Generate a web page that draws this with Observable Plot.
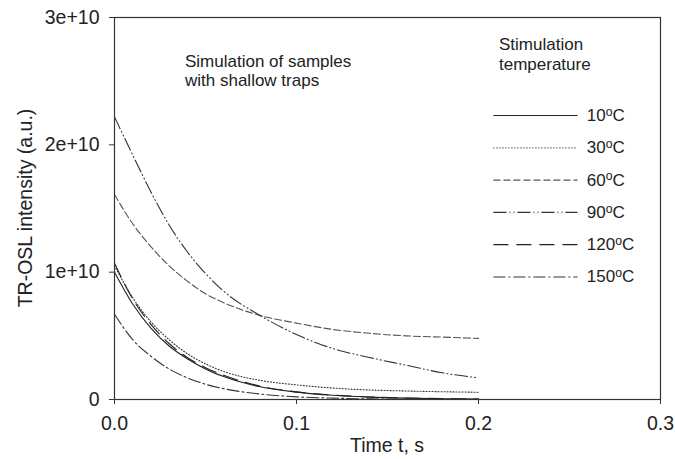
<!DOCTYPE html>
<html>
<head>
<meta charset="utf-8">
<script src="https://cdn.jsdelivr.net/npm/d3@7"></script>
<script src="https://cdn.jsdelivr.net/npm/@observablehq/plot@0.6"></script>
<style>
  html, body { margin: 0; padding: 0; background: #fff; }
  #chart svg { display: block; }
</style>
</head>
<body>
<div id="chart"></div>
<script>
// Time (s)
const time = [0, 0.01, 0.02, 0.03, 0.04, 0.05, 0.06, 0.08, 0.1, 0.12, 0.14, 0.16, 0.18, 0.2];
// TR-OSL intensity (units of 1e10 a.u.) per stimulation temperature
const i10  = [1.00, 0.75, 0.56, 0.42, 0.32, 0.24, 0.18, 0.10, 0.058, 0.033, 0.019, 0.011, 0.006, 0.004];
const i30  = [1.05, 0.80, 0.61, 0.47, 0.36, 0.28, 0.22, 0.15, 0.115, 0.09, 0.075, 0.067, 0.061, 0.057];
const i60  = [1.61, 1.38, 1.20, 1.05, 0.93, 0.83, 0.76, 0.66, 0.60, 0.55, 0.52, 0.50, 0.49, 0.48];
const i90  = [2.22, 1.92, 1.63, 1.37, 1.16, 0.99, 0.85, 0.66, 0.51, 0.40, 0.33, 0.27, 0.21, 0.17];
const i120 = [1.07, 0.79, 0.59, 0.44, 0.33, 0.25, 0.19, 0.105, 0.06, 0.035, 0.02, 0.012, 0.007, 0.004];
const i150 = [0.67, 0.47, 0.34, 0.24, 0.17, 0.12, 0.085, 0.043, 0.021, 0.011, 0.005, 0.003, 0.001, 0.001];

const temps = ["10", "30", "60", "90", "120", "150"];
const seriesValues = [i10, i30, i60, i90, i120, i150];
const dashes = [null, "1,2", "7,3", "13,3,1,3,1,3", "15,8", "12,3,2,3"];
const strokes = ["#222", "#333", "#555", "#333", "#222", "#333"];

const xTicks = [0, 0.1, 0.2, 0.3];
const yTicks = [0, 1e10, 2e10, 3e10];

const noteLines = ["Simulation of samples", "with shallow traps"];
const legendTitle = ["Stimulation", "temperature"];
const xLabel = "Time t, s";
const yLabel = "TR-OSL intensity (a.u.)";

const SCALE = 1e10;
const font = "Liberation Sans, Arial, Helvetica, sans-serif";

const marks = [];
seriesValues.forEach((vals, k) => {
  const rows = time.map((t, i) => ({t, v: vals[i] * SCALE}));
  marks.push(Plot.line(rows, {
    x: "t", y: "v", stroke: strokes[k], strokeWidth: 1.1,
    strokeDasharray: dashes[k] || undefined, curve: "monotone-x"
  }));
});

// legend (inside plot area, top right)
const legX1 = 0.2082, legX2 = 0.2544, legLabelX = 0.2595;
const legTop = 2.23e10, legStep = 0.2535e10;
temps.forEach((tp, k) => {
  const yv = legTop - k * legStep;
  marks.push(Plot.link([{x1: legX1, x2: legX2, y: yv}], {
    x1: "x1", x2: "x2", y1: "y", y2: "y", stroke: strokes[k], strokeWidth: 1.1,
    strokeDasharray: dashes[k] || undefined
  }));
});
marks.push(Plot.text(temps.map((tp, k) => ({x: legLabelX, y: legTop - k * legStep, label: tp + "oC"})), {
  x: "x", y: "y", text: "label", textAnchor: "start", fontSize: 17, fill: "#222"
}));

marks.push(Plot.frame({stroke: "#333", strokeWidth: 1.2}));
marks.push(Plot.axisX({ticks: xTicks, tickFormat: d3.format(".1f"), tickSize: 5, tickPadding: 12, fontSize: 19.5, label: null, stroke: "#333"}));
marks.push(Plot.axisY({ticks: yTicks, tickFormat: d => d === 0 ? "0" : d.toExponential(0), tickSize: 5, tickPadding: 10, fontSize: 19.5, label: null, stroke: "#333"}));

const chart = Plot.plot({
  width: 675,
  height: 459,
  marginLeft: 114,
  marginRight: 15,
  marginTop: 17,
  marginBottom: 60,
  style: {fontFamily: font, color: "#222", background: "#fff"},
  x: {domain: [0, 0.3]},
  y: {domain: [0, 3e10]},
  marks
});

const ns = "http://www.w3.org/2000/svg";
function addText(str, x, y, size, opts = {}) {
  const t = document.createElementNS(ns, "text");
  t.setAttribute("x", x); t.setAttribute("y", y);
  t.setAttribute("font-size", size);
  t.setAttribute("fill", "#222");
  t.setAttribute("font-family", font);
  t.setAttribute("text-anchor", opts.anchor || "start");
  if (opts.rotate) t.setAttribute("transform", `rotate(${opts.rotate},${x},${y})`);
  t.textContent = str;
  chart.appendChild(t);
  return t;
}

addText(noteLines[0], 185, 67, 17);
addText(noteLines[1], 185, 86, 17);
addText(legendTitle[0], 499, 50, 17);
addText(legendTitle[1], 499, 70, 17);
addText(xLabel, 387, 452, 19.5, {anchor: "middle"});
addText(yLabel, 32, 208, 19.5, {anchor: "middle", rotate: -90});

// superscript "o" in legend labels
chart.querySelectorAll("text").forEach(n => {
  const s = n.textContent;
  if (!/^\d+oC$/.test(s)) return;
  const num = s.replace("oC", "");
  n.textContent = "";
  const a = document.createElementNS(ns, "tspan"); a.textContent = num;
  const b = document.createElementNS(ns, "tspan"); b.textContent = "o";
  b.setAttribute("dy", "-0.42em"); b.setAttribute("font-size", "0.72em");
  const c = document.createElementNS(ns, "tspan"); c.textContent = "C";
  c.setAttribute("dy", "0.30em");
  n.append(a, b, c);
});

document.getElementById("chart").appendChild(chart);
</script>
</body>
</html>
